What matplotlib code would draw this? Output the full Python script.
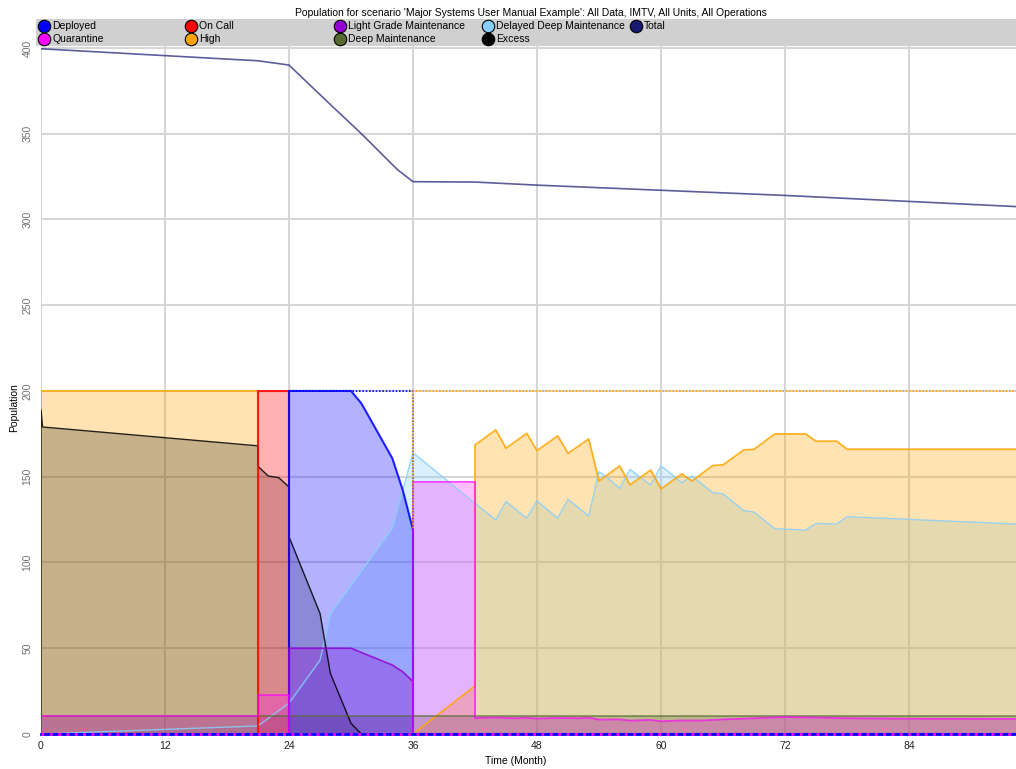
import matplotlib
matplotlib.use('Agg')
import matplotlib.pyplot as plt

plt.rcParams['font.family'] = ['Liberation Sans', 'DejaVu Sans']
plt.rcParams['font.size'] = 7.5

# time axis runs to the end of month 94
t_end = 94.35

# population by category, months on x (repeated months mark a jump)
t_delayed = [0, 21, 24, 27, 28, 34, 36, 42, 44, 45, 47, 48, 50, 51, 53, 54, 54.7, 56, 57, 58,
             59, 60, 61, 62, 63, 65, 66, 68, 69, 71, 74, 75, 77, 78, t_end]
delayed = [0, 4.7, 18, 43, 70, 120, 164, 134.5, 124.8, 135.5, 125.8, 135.9, 125.8, 136.8, 127.1, 153, 150, 143.2, 154.3, 149.6,
           145.2, 156.3, 151.6, 146.5, 150.4, 140.7, 140, 130.2, 129.4, 119.7, 118.9, 122.7, 122.4, 126.7, 122.4]

t_high = [0, 0, 21, 21, 36, 42, 42, 44, 45, 47, 48, 50, 51, 53, 54, 56, 57, 59, 60, 62,
          63, 65, 66, 68, 69, 71, 74, 75, 77, 78, t_end]
high = [0, 200, 200, 0, 0, 28, 168.5, 177.3, 166.6, 175.3, 165.2, 173.8, 163.6, 172, 147.5, 156.3, 145.2, 153.9, 142.9, 151.6,
        147.5, 156.5, 156.9, 165.6, 166, 174.9, 174.9, 170.7, 170.7, 166, 166]

t_excess = [0, 0, 0.15, 21, 21, 22, 23, 24, 24, 27, 28, 30, 31, t_end]
excess = [0, 189, 179, 168, 156, 150.4, 149.5, 144, 115, 70.3, 35.4, 6.2, 0, 0]

t_deep = [0, t_end]
deep = [10.5, 10.5]

t_oncall = [21, 21, 24, 24]
oncall = [0, 200, 200, 0]

t_deployed = [0, 24, 24, 30, 31, 34, 35, 36, 36, t_end]
deployed = [0, 0, 200, 200, 192.8, 160.7, 142.3, 119, 0, 0]

t_light = [24, 24, 30, 34, 35, 36, 36]
light = [0, 50, 50, 40.2, 36.3, 30.5, 0]

t_quar = [0, 0, 21, 21, 24, 24, 36, 36, 42, 42, 44, 46, 47, 48, 50, 52, 53, 54, 56, 57,
          59, 60, 62, 64, 66, 69, 72, 75, 78, 84, t_end]
quar = [0, 10.5, 10.5, 22.7, 22.7, 0, 0, 147, 147, 9.3, 9.6, 9.2, 9.5, 9.0, 9.4, 9.2, 9.5, 8.4, 8.5, 7.8,
        8.2, 7.4, 7.9, 7.9, 8.5, 9.2, 9.9, 9.6, 9.2, 8.9, 8.8]

t_total = [0, 12, 21, 24, 28, 31, 33, 34.5, 36, 42, 48, 60, 72, 84, t_end]
total = [399.5, 395.5, 392.5, 390, 367, 350, 338, 329, 322, 321.8, 320, 317, 314, 310.5, 307.5]

# required levels (dotted)
t_req_deployed = [24, 36, 36]
req_deployed = [200, 200, 119]
t_req_high = [36, 36, t_end]
req_high = [119, 200, 200]

names = ['Deployed', 'On Call', 'Light Grade Maintenance', 'Delayed Deep Maintenance', 'Total',
         'Quarantine', 'High', 'Deep Maintenance', 'Excess']
colors = {'Deployed': '#0000FF', 'On Call': '#FF0000', 'Light Grade Maintenance': '#9400D3',
          'Delayed Deep Maintenance': '#87CEFA', 'Total': '#191970', 'Quarantine': '#FF00FF',
          'High': '#FFA500', 'Deep Maintenance': '#556B2F', 'Excess': '#000000'}

fig = plt.figure(figsize=(10.16, 7.69), dpi=100)
ax = fig.add_axes([41 / 1016, 35 / 769, 975 / 1016, 689 / 769])

# area series, drawn back to front
areas = [
    ('Delayed Deep Maintenance', t_delayed, delayed, 0.3, 1.0, 0.85),
    ('High', t_high, high, 0.3, 1.3, 0.85),
    ('Excess', t_excess, excess, 0.22, 1.0, 0.85),
    ('Deep Maintenance', t_deep, deep, 0.3, 1.2, 0.7),
    ('On Call', t_oncall, oncall, 0.3, 1.5, 0.85),
    ('Deployed', t_deployed, deployed, 0.3, 1.5, 0.85),
    ('Light Grade Maintenance', t_light, light, 0.3, 1.2, 0.85),
    ('Quarantine', t_quar, quar, 0.25, 1.3, 0.7),
]
for name, t, v, a, lw, la in areas:
    c = colors[name]
    ax.fill_between(t, 0, v, color=c, alpha=a, lw=0)
    ax.plot(t, v, color=c, lw=lw, alpha=la)

ax.plot(t_req_deployed, req_deployed, color=colors['Deployed'], lw=1.2, ls=(0, (1, 1)))
ax.plot(t_req_high, req_high, color=colors['High'], lw=1.2, ls=(1, (1, 1)))
ax.plot(t_total, total, color=colors['Total'], lw=1.2, alpha=0.7)
# zero line along the bottom
ax.plot([0, t_end], [0, 0], color=colors['Deployed'], lw=2, clip_on=False)
ax.plot([0, t_end], [0, 0], color=colors['Quarantine'], lw=2, ls=(0, (1, 2)), clip_on=False)

ax.set_xlim(0, t_end)
ax.set_ylim(0, 401.7)
ax.set_xticks(range(0, 96, 12))
ax.set_yticks(range(0, 401, 50))
ax.grid(color='#d6d6d6', lw=1.5)
ax.set_axisbelow(True)
for s in ax.spines.values():
    s.set_visible(False)
ax.tick_params(axis='x', length=0, pad=5, labelsize=7.5, labelcolor='#202020')
ax.tick_params(axis='y', length=0, pad=6, labelsize=7.5, labelcolor='#707070')
for lab in ax.get_yticklabels():
    lab.set_rotation(90)
    lab.set_va('center')

# title, axis titles and legend in pixel coordinates
ov = fig.add_axes([0, 0, 1, 1])
ov.set_xlim(0, 1016)
ov.set_ylim(769, 0)
ov.axis('off')
ov.text(531, 13, "Population for scenario 'Major Systems User Manual Example': All Data, IMTV, All Units, All Operations",
        ha='center', va='center', fontsize=7.5)
ov.text(516, 761, 'Time (Month)', ha='center', va='center', fontsize=7.5)
ov.text(14, 408, 'Population', ha='center', va='center', rotation=90, fontsize=7.5)
ov.add_patch(plt.Rectangle((36, 19), 980, 26.5, color='#d0d0d0', lw=0))
col_x = [44.3, 191, 340, 488, 636]
row_y = [25.7, 39]
for i, name in enumerate(names):
    x = col_x[i % 5]
    y = row_y[i // 5]
    ov.plot([x], [y], marker='o', ms=9, mfc=colors[name], mec='black', mew=0.8)
    ov.text(x + 8, y, name, ha='left', va='center', fontsize=7.5)

fig.savefig('out.png', dpi=100)
